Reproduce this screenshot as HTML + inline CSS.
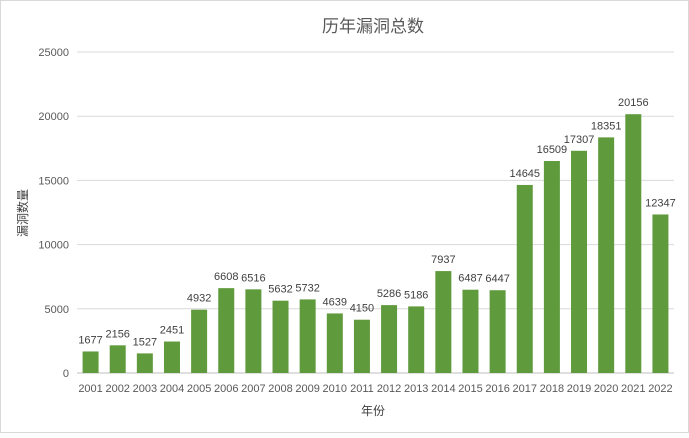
<!DOCTYPE html>
<html><head><meta charset="utf-8"><style>
body{margin:0;background:#fff;}
svg text{font-family:"Liberation Sans","Noto Sans CJK SC",sans-serif;}
</style></head><body>
<svg id="chart" width="689" height="433" style="border:1px solid #d9d9d9;box-sizing:border-box">
<text x="372" y="31" text-anchor="middle" font-size="17" fill="#595959">历年漏洞总数</text>
<text transform="translate(26,212) rotate(-90)" text-anchor="middle" font-size="12" fill="#404040">漏洞数量</text>
<text x="372" y="414" text-anchor="middle" font-size="12" fill="#404040">年份</text>
<g id="grid"></g><g id="bars"></g>
</svg>
<script>
const categories=["2001","2002","2003","2004","2005","2006","2007","2008","2009","2010","2011","2012","2013","2014","2015","2016","2017","2018","2019","2020","2021","2022"];
const values=[1677,2156,1527,2451,4932,6608,6516,5632,5732,4639,4150,5286,5186,7937,6487,6447,14645,16509,17307,18351,20156,12347];
const yTicks=[0,5000,10000,15000,20000,25000];
const NS="http://www.w3.org/2000/svg";
const x0=76,x1=673,y0=372,yTop=51,yMax=25000;
const step=(x1-x0)/categories.length;
function xs(i){return x0+step*(i+0.5);}
function ys(v){return y0-(v/yMax)*(y0-yTop);}
function mk(tag,attrs,parent){const e=document.createElementNS(NS,tag);for(const k in attrs)e.setAttribute(k,attrs[k]);parent.appendChild(e);return e;}
const grid=document.getElementById('grid'),bars=document.getElementById('bars');
yTicks.forEach(t=>{
 const l=mk('line',{x1:x0,x2:x1,y1:ys(t),y2:ys(t),stroke:t===0?'#bfbfbf':'#d9d9d9','stroke-width':1},grid);
 
 
 const tx=mk('text',{x:68,y:ys(t)+4,'text-anchor':'end','font-size':11,fill:'#595959'},grid);
 tx.textContent=t;
 
 
});
const bw=16;
values.forEach((v,i)=>{
 const r=mk('rect',{x:xs(i)-bw/2,y:ys(v),width:bw,height:y0-ys(v),fill:'#5f9a3c'},bars);
 
 
 const lb=mk('text',{x:xs(i),y:ys(v)-8,'text-anchor':'middle','font-size':11,fill:'#404040'},bars);
 lb.textContent=v;
 
 
 const c=mk('text',{x:xs(i),y:391,'text-anchor':'middle','font-size':11,fill:'#595959'},bars);
 c.textContent=categories[i];
 
 
});
</script>
</body></html>
